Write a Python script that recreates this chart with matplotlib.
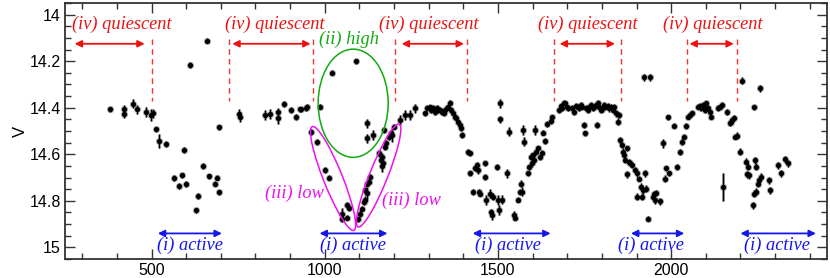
import matplotlib
matplotlib.use("Agg")
import matplotlib.pyplot as plt
from matplotlib.patches import Ellipse
from matplotlib.transforms import IdentityTransform
from matplotlib.ticker import MultipleLocator
import numpy as np

# ---- data (JD offset, V magnitude, error) ----
jd = [379, 419, 419, 445, 457, 485, 497, 503, 512, 521, 542, 566, 579, 587, 595, 600,
      610, 628, 634, 648, 660, 667, 684, 690, 694, 696, 751, 755,
      826, 843, 866, 866, 882, 903, 918, 928, 932, 945, 950, 987, 961, 979, 1002, 1011,
      1021, 1050, 1050, 1063, 1065, 1070, 1089, 1095, 1101, 1107, 1112, 1116, 1116,
      1121, 1123, 1127, 1132, 1121, 1123, 1140, 1157, 1161, 1164, 1166, 1169, 1172,
      1175, 1178, 1185, 1191, 1195, 1199, 1217, 1232, 1246, 1261, 1290, 1294,
      1304, 1308, 1313, 1318, 1323, 1328, 1333, 1338, 1343, 1348, 1353, 1357, 1362,
      1365, 1369, 1375, 1379, 1385, 1389, 1394, 1396,
      1413, 1418, 1420, 1428, 1434, 1439, 1442, 1446, 1449, 1462, 1464, 1466, 1476,
      1479, 1482, 1485, 1498, 1500, 1503, 1505, 1507, 1512, 1526, 1533, 1547, 1549,
      1558, 1563, 1567, 1570, 1573, 1575, 1587, 1589, 1594, 1597, 1601, 1604, 1606,
      1610, 1616, 1620, 1626, 1630, 1635, 1642, 1652, 1657,
      1676, 1681, 1686, 1691, 1695, 1700, 1703, 1715, 1720, 1725, 1730, 1734, 1739,
      1744, 1749, 1752, 1754, 1759, 1763, 1768, 1773, 1778, 1783, 1785, 1788, 1792,
      1797, 1802, 1807, 1812, 1817, 1822, 1826, 1831, 1836, 1841, 1846, 1850,
      1853, 1858, 1862, 1865, 1868, 1872, 1873, 1877, 1881, 1888, 1896, 1900, 1902,
      1907, 1912, 1916, 1919, 1922, 1925, 1928, 1932, 1938, 1947, 1951, 1954, 1956,
      1968, 1976, 1981, 1985, 1990, 1993, 2007, 2016, 2026, 2032, 2036, 2043, 2048,
      2053, 2061, 2077, 2082, 2087, 2092, 2095, 2099, 2102, 2107, 2112, 2116, 2136,
      2141, 2146, 2150, 2160, 2170, 2173, 2177, 2181, 2184, 2189, 2200, 2206, 2216,
      2219, 2222, 2225, 2235, 2239, 2240, 2241, 2244, 2246, 2251, 2254, 2256, 2258,
      2283, 2285, 2309, 2316, 2329, 2336]

vmag = [14.407, 14.405, 14.427, 14.382, 14.407, 14.418, 14.431, 14.424, 14.493, 14.542,
        14.556, 14.703, 14.736, 14.691, 14.582, 14.727, 14.217, 14.841, 14.780, 14.651,
        14.111, 14.694, 14.726, 14.700, 14.764, 14.484, 14.425, 14.440,
        14.431, 14.427, 14.420, 14.445, 14.385, 14.410, 14.440, 14.407, 14.407, 14.400,
        14.397, 14.395, 14.503, 14.547, 14.668, 14.700, 14.249, 14.855, 14.876, 14.872,
        14.820, 14.830, 14.201, 14.880, 14.855, 14.833, 14.805, 14.795, 14.754, 14.726,
        14.766, 14.718, 14.697, 14.467, 14.532, 14.517, 14.596, 14.625, 14.651, 14.611,
        14.639, 14.496, 14.567, 14.553, 14.524, 14.510, 14.517, 14.481, 14.453, 14.431,
        14.431, 14.402, 14.424, 14.402,
        14.398, 14.410, 14.402, 14.417, 14.402, 14.410, 14.410, 14.417, 14.424, 14.410,
        14.402, 14.395, 14.378, 14.410, 14.424, 14.438, 14.445, 14.460, 14.474, 14.489,
        14.517,
        14.589, 14.596, 14.682, 14.761, 14.661, 14.647, 14.668, 14.761, 14.769, 14.639,
        14.697, 14.797, 14.769, 14.848, 14.862, 14.783, 14.654, 14.797, 14.840, 14.450,
        14.381, 14.795, 14.682, 14.503, 14.862, 14.872, 14.795, 14.761, 14.726, 14.761,
        14.496, 14.546, 14.682, 14.654, 14.611, 14.639, 14.603, 14.625, 14.496,
        14.590, 14.575, 14.610, 14.596, 14.507, 14.542, 14.470, 14.457, 14.441,
        14.410, 14.392, 14.402, 14.378, 14.381, 14.395, 14.402, 14.402, 14.417, 14.392,
        14.395, 14.402, 14.388, 14.395, 14.474, 14.510, 14.402, 14.410, 14.395, 14.388,
        14.402, 14.395, 14.388, 14.474, 14.381, 14.395, 14.410, 14.402, 14.388, 14.395,
        14.392, 14.402, 14.395, 14.410, 14.395, 14.424, 14.460, 14.431,
        14.539, 14.560, 14.589, 14.603, 14.625, 14.575, 14.685, 14.632, 14.639, 14.647,
        14.668, 14.783, 14.682, 14.704, 14.740, 14.783, 14.754, 14.269, 14.682, 14.747,
        14.876, 14.269, 14.783, 14.769, 14.797, 14.766, 14.802, 14.553, 14.704, 14.661,
        14.441, 14.682, 14.477, 14.654, 14.589, 14.546, 14.524, 14.478, 14.438, 14.431,
        14.424, 14.395, 14.392, 14.402, 14.388, 14.395, 14.410, 14.381, 14.402, 14.417,
        14.438, 14.402, 14.395, 14.388, 14.740, 14.417, 14.467, 14.460, 14.453, 14.445,
        14.524, 14.521, 14.589, 14.283, 14.632, 14.685, 14.654, 14.690, 14.819, 14.769,
        14.398, 14.625, 14.654, 14.761, 14.726, 14.711, 14.316, 14.697, 14.711, 14.754,
        14.647, 14.682, 14.622, 14.639]

verr = [0.012, 0.015, 0.015, 0.02, 0.02, 0.02, 0.025, 0.02, 0.012, 0.03,
        0.012, 0.012, 0.012, 0.012, 0.012, 0.012, 0.012, 0.01, 0.012, 0.012,
        0.012, 0.01, 0.012, 0.012, 0.012, 0.012, 0.02, 0.02,
        0.02, 0.02, 0.02, 0.025, 0.012, 0.012, 0.012, 0.012, 0.012, 0.012,
        0.012, 0.012, 0.012, 0.012, 0.012, 0.012, 0.012, 0.025, 0.015, 0.012,
        0.015, 0.012, 0.012, 0.012, 0.015, 0.012, 0.012, 0.015, 0.015, 0.012,
        0.025, 0.012, 0.012, 0.02, 0.02, 0.02, 0.015, 0.015, 0.025, 0.015,
        0.015, 0.012, 0.015, 0.015, 0.015, 0.015, 0.03, 0.012, 0.02, 0.02,
        0.02, 0.02, 0.012, 0.012,
        0.012, 0.012, 0.012, 0.012, 0.012, 0.012, 0.012, 0.012, 0.012, 0.012,
        0.012, 0.012, 0.012, 0.012, 0.012, 0.012, 0.012, 0.012, 0.012, 0.012,
        0.012,
        0.012, 0.012, 0.012, 0.012, 0.012, 0.015, 0.015, 0.012, 0.012, 0.012,
        0.012, 0.02, 0.02, 0.012, 0.02, 0.015, 0.012, 0.02, 0.02, 0.015,
        0.02, 0.02, 0.02, 0.02, 0.02, 0.012, 0.012, 0.012, 0.015, 0.02,
        0.02, 0.02, 0.012, 0.012, 0.015, 0.015, 0.015, 0.015, 0.02,
        0.015, 0.012, 0.015, 0.015, 0.012, 0.012, 0.012, 0.012, 0.012,
        0.012, 0.012, 0.012, 0.012, 0.012, 0.012, 0.012, 0.012, 0.015, 0.012,
        0.012, 0.012, 0.012, 0.012, 0.012, 0.012, 0.012, 0.012, 0.012, 0.012,
        0.012, 0.012, 0.012, 0.012, 0.015, 0.012, 0.012, 0.015, 0.012, 0.012,
        0.012, 0.015, 0.012, 0.012, 0.012, 0.015, 0.015, 0.012,
        0.015, 0.012, 0.015, 0.012, 0.012, 0.012, 0.015, 0.012, 0.012, 0.012,
        0.012, 0.015, 0.015, 0.012, 0.015, 0.015, 0.015, 0.015, 0.015, 0.015,
        0.012, 0.015, 0.012, 0.012, 0.015, 0.012, 0.015, 0.02, 0.015, 0.012,
        0.012, 0.012, 0.012, 0.012, 0.012, 0.015, 0.012, 0.012, 0.012, 0.012,
        0.012, 0.012, 0.012, 0.012, 0.012, 0.012, 0.012, 0.012, 0.012, 0.012,
        0.012, 0.012, 0.012, 0.012, 0.06, 0.012, 0.012, 0.012, 0.012, 0.012,
        0.012, 0.015, 0.015, 0.015, 0.015, 0.015, 0.015, 0.015, 0.015, 0.015,
        0.012, 0.015, 0.015, 0.015, 0.015, 0.015, 0.015, 0.015, 0.015, 0.015,
        0.015, 0.015, 0.015, 0.015]

# ---- annotation definitions ----
quiet_arrow_start = [278, 733, 1222, 1678, 2053]
quiet_arrow_end = [480, 959, 1402, 1838, 2181]
quiet_label_x = [413, 856, 1300, 1758, 2121]
quiet_dash_x = [500, 724, 966, 1202, 1411, 1662, 1855, 2047, 2189]
active_arrow_start = [518, 985, 1427, 1884, 2200]
active_arrow_end = [703, 1181, 1652, 2038, 2418]
active_label_x = [611, 1080, 1529, 1943, 2306]

fig = plt.figure(figsize=(8.3, 2.78), dpi=100)
ax = fig.add_axes([0.0783, 0.0683, 0.9181, 0.9207])

# soft grey halo under the points, then the black points
ax.errorbar(jd, vmag, yerr=verr, fmt='o', color='#b0b0b0', ms=5.2, mew=0,
            elinewidth=2.2, capsize=2.2, capthick=2.0, zorder=2)
ax.errorbar(jd, vmag, yerr=verr, fmt='o', color='black', ms=3.8, mew=0,
            elinewidth=1.0, capsize=1.7, capthick=1.0, zorder=3)

ax.set_xlim(250, 2450)
ax.set_ylim(15.05, 13.95)
ax.xaxis.set_major_locator(MultipleLocator(500))
ax.xaxis.set_minor_locator(MultipleLocator(100))
ax.yaxis.set_major_locator(MultipleLocator(0.2))
ax.yaxis.set_minor_locator(MultipleLocator(0.05))
ax.tick_params(which='both', direction='in', top=True, right=True,
               labelsize=11.5, pad=3, width=1.0, color='#333333')
ax.tick_params(which='major', length=7)
ax.tick_params(which='minor', length=4)
ax.set_yticks([14, 14.2, 14.4, 14.6, 14.8, 15])
ax.set_yticklabels(['14', '14.2', '14.4', '14.6', '14.8', '15'])
for lab in ax.get_xticklabels() + ax.get_yticklabels():
    lab.set_family('Liberation Sans')
for sp in ax.spines.values():
    sp.set_linewidth(1.3)
    sp.set_color('#333333')
ax.set_ylabel('V', fontsize=12, family='Liberation Sans', labelpad=1)

tfont = dict(family='Liberation Serif', style='italic', fontsize=13.2)
red = '#ee1111'
blue = '#1515ee'

for x0, x1 in zip(quiet_arrow_start, quiet_arrow_end):
    ax.annotate('', xy=(x1, 14.125), xytext=(x0, 14.125),
                arrowprops=dict(arrowstyle='<|-|>', color=red, lw=1.3,
                                mutation_scale=10, shrinkA=0, shrinkB=0))
for xl in quiet_label_x:
    ax.text(xl, 14.04, '(iv) quiescent', color=red, ha='center', va='center', **tfont)
for xd in quiet_dash_x:
    ax.plot([xd, xd], [14.105, 14.37], color=red, lw=1.0, ls=(0, (4, 3)), alpha=0.85)

for x0, x1 in zip(active_arrow_start, active_arrow_end):
    ax.annotate('', xy=(x1, 14.94), xytext=(x0, 14.94),
                arrowprops=dict(arrowstyle='<|-|>', color=blue, lw=1.3,
                                mutation_scale=10, shrinkA=0, shrinkB=0))
for xl in active_label_x:
    ax.text(xl, 14.99, '(i) active', color=blue, ha='center', va='center', **tfont)

fig.canvas.draw()
green = '#11aa11'
magenta = '#ee11ee'

def display_ellipse(p_top, p_bot, width_px, color):
    a = ax.transData.transform(p_top)
    b = ax.transData.transform(p_bot)
    c = (a + b) / 2
    d = b - a
    length = np.hypot(*d)
    ang = np.degrees(np.arctan2(d[1], d[0]))
    e = Ellipse(c, length, width_px, angle=ang, transform=IdentityTransform(),
                fill=False, edgecolor=color, lw=1.1, zorder=4)
    ax.add_artist(e)

display_ellipse((1082, 14.148), (1082, 14.613), 70, green)
display_ellipse((964, 14.481), (1084, 14.927), 19, magenta)
display_ellipse((1215, 14.47), (1096, 14.912), 18, magenta)

ax.text(1071, 14.105, '(ii) high', color=green, ha='center', va='center', **tfont)
ax.text(912, 14.766, '(iii) low', color=magenta, ha='center', va='center', **tfont)
ax.text(1249, 14.797, '(iii) low', color=magenta, ha='center', va='center', **tfont)

fig.savefig('out.png', dpi=100)
